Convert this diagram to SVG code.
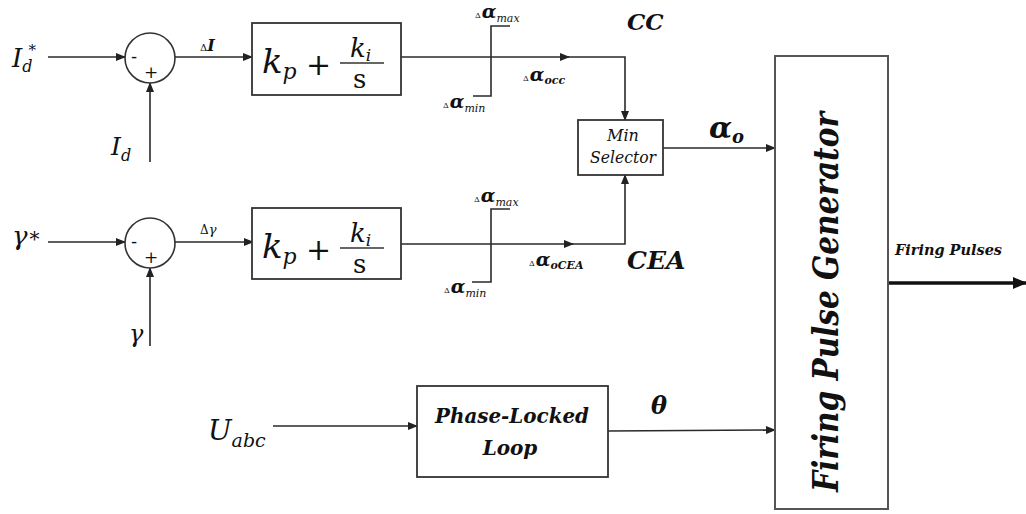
<svg xmlns="http://www.w3.org/2000/svg" width="1026" height="514" viewBox="0 0 1026 514">
<defs>
<marker id="ah" markerUnits="userSpaceOnUse" markerWidth="10" markerHeight="8" refX="9" refY="4" orient="auto"><path d="M0,0 L10,4 L0,8 Z" fill="#222"/></marker>
<marker id="ahb" markerUnits="userSpaceOnUse" markerWidth="14" markerHeight="12" refX="13" refY="6" orient="auto"><path d="M0,0 L14,6 L0,12 Z" fill="#111"/></marker>
<style>
.ln{fill:none;stroke:#2a2a2a;stroke-width:1.6}
.bx{fill:#fff;stroke:#333;stroke-width:1.8}
.bx2{fill:#fff;stroke:#555;stroke-width:2}
.m{font-style:italic}
.b{font-weight:bold}
</style>
</defs>
<rect width="1026" height="514" fill="#fff"/>

<g id="connectors">
<line class="ln" x1="48" y1="57" x2="125" y2="57" marker-end="url(#ah)"/>
<line class="ln" x1="150" y1="162" x2="150" y2="83" marker-end="url(#ah)"/>
<line class="ln" x1="175" y1="57" x2="252" y2="57" marker-end="url(#ah)"/>
<line class="ln" x1="401" y1="57" x2="569" y2="57" marker-end="url(#ah)"/>
<polyline class="ln" points="567,57 625,57 625,120" marker-end="url(#ah)"/>
<line class="ln" x1="48" y1="242" x2="125" y2="242" marker-end="url(#ah)"/>
<line class="ln" x1="150" y1="346" x2="150" y2="268" marker-end="url(#ah)"/>
<line class="ln" x1="175" y1="242" x2="253" y2="242" marker-end="url(#ah)"/>
<line class="ln" x1="401" y1="244" x2="573" y2="244" marker-end="url(#ah)"/>
<polyline class="ln" points="571,244 625,244 625,175" marker-end="url(#ah)"/>
<line class="ln" x1="663" y1="148" x2="775" y2="148" marker-end="url(#ah)"/>
<line class="ln" x1="273" y1="426" x2="417" y2="426" marker-end="url(#ah)"/>
<line class="ln" x1="608" y1="431" x2="775" y2="430" marker-end="url(#ah)"/>
<line x1="888" y1="283" x2="1026" y2="283" stroke="#111" stroke-width="3.5" marker-end="url(#ahb)"/>
</g>

<g font-family="DejaVu Serif, Liberation Serif, serif" fill="#111">
<g id="input-id-ref">
<text class="m" x="12" y="67" font-size="26">I<tspan font-size="16" dy="5">d</tspan><tspan class="r" font-size="15" dx="-4" dy="-17" font-style="normal">*</tspan></text>
</g>
<g id="input-id">
<text class="m" x="111" y="155" font-size="25">I<tspan font-size="16" dy="6">d</tspan></text>
</g>
<g id="sum1">
<circle cx="150" cy="58" r="25" fill="#fff" stroke="#333" stroke-width="1.6"/>
<text x="131" y="63" font-size="18">-</text>
<text x="144" y="78" font-size="17">+</text>
</g>
<text x="200" y="51" font-size="10">Δ<tspan class="m b" font-size="16">I</tspan></text>

<g id="pi1">
<rect class="bx" x="252" y="23" width="149" height="72"/>
<text class="m" x="262" y="73" font-size="34">k<tspan font-size="22" dy="6">p</tspan></text>
<text x="306" y="75" font-size="30">+</text>
<text class="m" x="350" y="57" font-size="26">k<tspan font-size="17" dy="4">i</tspan></text>
<line x1="340" y1="63" x2="384" y2="63" stroke="#333" stroke-width="1.6"/>
<text x="353" y="88" font-size="26">s</text>
</g>

<g id="limiter1">
<polyline class="ln" points="473,96 491,96 491,26 510,26"/>
<text x="475" y="18" font-size="8">Δ<tspan class="m b" font-size="19" dx="1">α</tspan><tspan class="m" font-size="11" dy="4">max</tspan></text>
<text x="443" y="108" font-size="8">Δ<tspan class="m b" font-size="19" dx="1">α</tspan><tspan class="m" font-size="11" dy="4">min</tspan></text>
</g>
<text x="523" y="81" font-size="8">Δ<tspan class="m b" font-size="19" dx="1">α</tspan><tspan class="m b" font-size="11" dy="3">occ</tspan></text>
<text class="m b" x="627" y="30" font-size="23">CC</text>

<g id="min-selector">
<rect class="bx" x="578" y="120" width="85" height="55"/>
<text class="m" x="623" y="141" font-size="16" text-anchor="middle">Min</text>
<text class="m" x="623" y="163" font-size="16" text-anchor="middle" textLength="66" lengthAdjust="spacingAndGlyphs">Selector</text>
</g>
<text class="m b" x="709" y="138" font-size="30">α<tspan font-size="18" dy="5">o</tspan></text>

<g id="input-gamma-ref">
<text class="m" x="12" y="245" font-size="26">γ<tspan font-style="normal" font-size="20" dx="2" dy="1">*</tspan></text>
</g>
<g id="input-gamma">
<text class="m" x="129" y="342" font-size="24">γ</text>
</g>
<g id="sum2">
<circle cx="150" cy="243" r="25" fill="#fff" stroke="#333" stroke-width="1.6"/>
<text x="131" y="248" font-size="18">-</text>
<text x="144" y="263" font-size="17">+</text>
</g>
<text x="200" y="234" font-size="12">Δ<tspan class="m" font-size="13">γ</tspan></text>

<g id="pi2">
<rect class="bx" x="252" y="208" width="149" height="71"/>
<text class="m" x="262" y="258" font-size="34">k<tspan font-size="22" dy="6">p</tspan></text>
<text x="306" y="260" font-size="30">+</text>
<text class="m" x="350" y="242" font-size="26">k<tspan font-size="17" dy="4">i</tspan></text>
<line x1="340" y1="248" x2="384" y2="248" stroke="#333" stroke-width="1.6"/>
<text x="353" y="273" font-size="26">s</text>
</g>

<g id="limiter2">
<polyline class="ln" points="472,282 491,282 491,209 510,209"/>
<text x="474" y="202" font-size="8">Δ<tspan class="m b" font-size="19" dx="1">α</tspan><tspan class="m" font-size="11" dy="4">max</tspan></text>
<text x="444" y="293" font-size="8">Δ<tspan class="m b" font-size="19" dx="1">α</tspan><tspan class="m" font-size="11" dy="4">min</tspan></text>
</g>
<text x="529" y="266" font-size="8">Δ<tspan class="m b" font-size="19" dx="1">α</tspan><tspan class="m b" font-size="11" dy="3">oCEA</tspan></text>
<text class="m b" x="627" y="269" font-size="25">CEA</text>

<g id="input-uabc">
<text class="m" x="208" y="440" font-size="28">U<tspan font-size="19" dy="7">abc</tspan></text>
</g>
<g id="pll">
<rect class="bx" x="417" y="386" width="191" height="91"/>
<text class="m b" x="512" y="423" font-size="20" text-anchor="middle" textLength="154" lengthAdjust="spacingAndGlyphs">Phase-Locked</text>
<text class="m b" x="510" y="455" font-size="20" text-anchor="middle">Loop</text>
</g>
<text class="m b" x="651" y="414" font-size="24">θ</text>

<g id="firing-pulse-generator">
<rect class="bx2" x="775" y="56" width="113" height="453"/>
<text class="m b" transform="translate(838,492) rotate(-90)" font-size="36" textLength="380" lengthAdjust="spacingAndGlyphs">Firing Pulse Generator</text>
</g>
<text class="m b" x="895" y="255" font-size="14" textLength="107" lengthAdjust="spacingAndGlyphs">Firing Pulses</text>
</g>
</svg>
